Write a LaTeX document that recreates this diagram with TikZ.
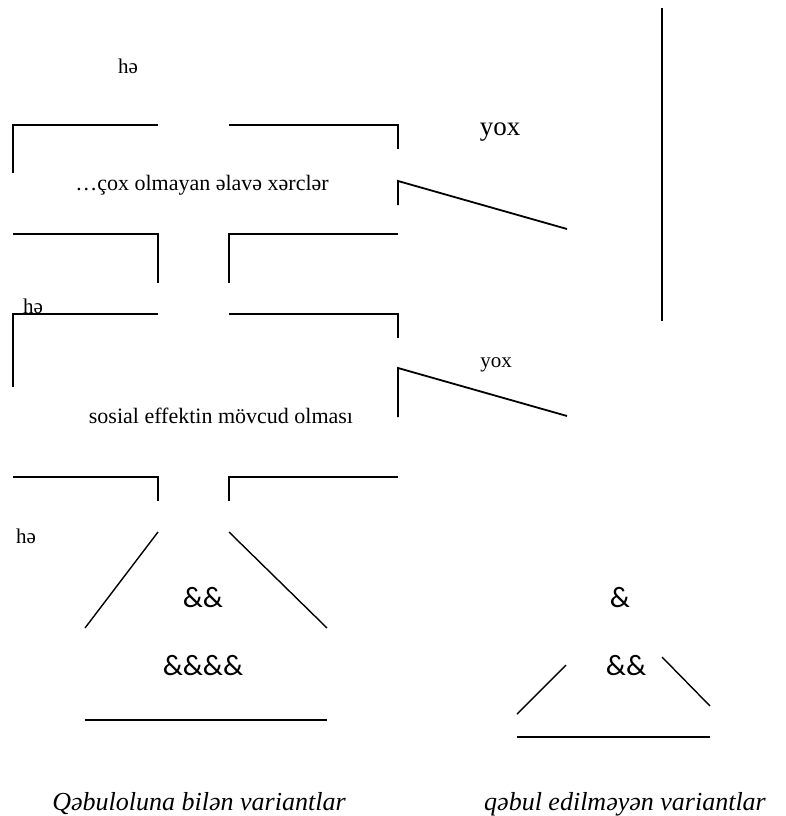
\documentclass[tikz,border=0pt]{standalone}
\usepackage{fontspec}
\setmainfont{Liberation Serif}[ItalicFont={Liberation Serif Italic}]
\newfontfamily\ampfont{Carlito}
\usetikzlibrary{positioning}

\begin{document}
\begin{tikzpicture}[
    x=1pt, y=-1pt,
    frame/.style={line width=1.8pt},
    slant/.style={line width=1.4pt},
    cond/.style={inner sep=0pt, anchor=base, font=\fontsize{22}{26}\selectfont},
    answer/.style={inner sep=0pt, anchor=base, font=\fontsize{21}{24}\selectfont},
    amp/.style={inner sep=0pt, font=\ampfont\fontsize{29.5}{33}\selectfont},
    caption/.style={inner sep=0pt, anchor=base, font=\itshape\fontsize{26}{30}\selectfont}
]
\useasboundingbox (0,0) rectangle (786,816);

% Condition 1
\node[answer] (yes1) at (128,74) {hə};
\draw[frame] (13,173) |- (158,125);
\draw[frame] (229,125) -| (398,149);
\node[cond] (q1) at (202,190) {…çox olmayan əlavə xərclər};
\draw[frame] (398,205) -- (398,181) -- (567,229);
\node[answer, font=\fontsize{27}{30}\selectfont] (no1) at (500,135) {yox};
\draw[frame] (13,234) -| (158,283);
\draw[frame] (229,283) |- (398,234);

% Rejected branch
\draw[frame] (662,8) -- (662,321);

% Condition 2
\node[answer] (yes2) at (33,313) {hə};
\draw[frame] (13,387) |- (158,314);
\draw[frame] (229,314) -| (398,338);
\node[cond] (q2) at (221,423) {sosial effektin mövcud olması};
\draw[frame] (398,417) -- (398,368) -- (567,416);
\node[answer] (no2) at (496,367) {yox};
\draw[frame] (13,477) -| (158,501);
\draw[frame] (229,501) |- (398,477);

% Accepted options
\node[answer] (yes3) at (26,543) {hə};
\draw[slant] (158,532) -- (85,628);
\draw[slant] (229,532) -- (327,628);
\node[amp] (acc1) at (203,598) {\&\&};
\node[amp] (acc2) at (203,666) {\&\&\&\&};
\draw[frame] (85,720) -- (327,720);
\node[caption] (acc) at (199,810) {Qəbuloluna bilən variantlar};

% Rejected options
\node[amp] (rej1) at (620,598) {\&};
\node[amp] (rej2) at (626,666) {\&\&};
\draw[slant] (566,665) -- (517,714);
\draw[slant] (662,657) -- (710,706);
\draw[frame] (517,737) -- (710,737);
\node[caption] (rej) at (625,810) {qəbul edilməyən variantlar};
\end{tikzpicture}
\end{document}
